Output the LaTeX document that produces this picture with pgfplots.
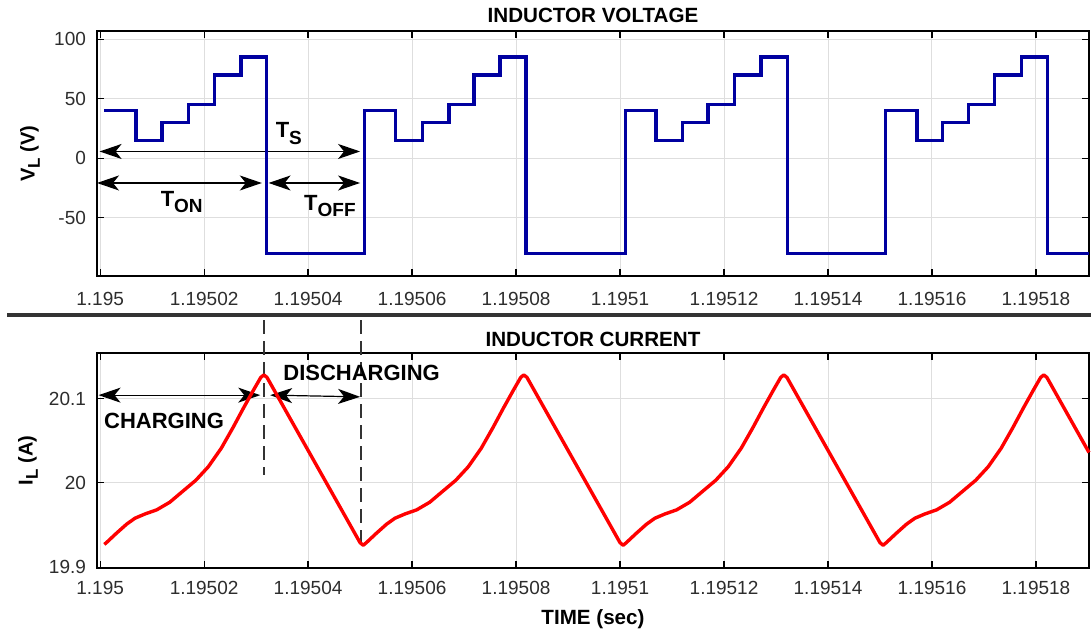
\documentclass[border=0pt]{standalone}
\usepackage{fontspec}
\setmainfont{Liberation Sans}
\usepackage{pgfplots}
\pgfplotsset{compat=1.18}
\usetikzlibrary{arrows.meta}
\definecolor{vblue}{RGB}{0,0,160}
\definecolor{tickgray}{RGB}{45,45,45}
\newcommand{\sub}[1]{\raisebox{-0.55ex}{\fontsize{9.5}{10}\selectfont #1}}
\newcommand{\lsub}[1]{\raisebox{-0.5ex}{\fontsize{8.5}{9}\selectfont #1}}
\tikzset{dimarrow/.style={{Stealth[length=11pt,width=7.5pt,inset=3pt]}-{Stealth[length=11pt,width=7.5pt,inset=3pt]}, line width=0.6pt, black},
  ttl/.style={font=\bfseries\fontsize{10.3}{12}\selectfont, anchor=center}}
\pgfplotsset{
 myaxis/.style={
   scale only axis, width=496pt, xmin=-0.6, xmax=190.2,
   xtick={0,20,...,180},
   xticklabels={1.195,1.19502,1.19504,1.19506,1.19508,1.1951,1.19512,1.19514,1.19516,1.19518},
   tick align=inside, tick pos=both, major tick length=3.5pt,
   every tick/.style={black,line width=0.6pt},
   axis line style={line width=0.75pt},
   grid=major, major grid style={black!13,line width=0.5pt},
   ticklabel style={font=\fontsize{9.5}{10}\selectfont, text=tickgray},
   yticklabel style={xshift=-2pt},
   clip=false, anchor=south west,
   every axis y label/.style={rotate=90,anchor=center,font=\bfseries\fontsize{10}{12}\selectfont},
 }
}
\begin{document}
\begin{tikzpicture}
\path[use as bounding box] (0,0) rectangle (545.5pt,315pt);
% top panel
\begin{axis}[myaxis, at={(48.5pt,177pt)}, height=122.5pt,
  ymin=-99, ymax=107, ytick={-50,0,50,100}, yticklabels={-50,0,50,100},
  xticklabel style={yshift=-4.6pt},
  ylabel={V\lsub{L} (V)}, ylabel style={at={(axis description cs:-0.0675,0.5)}}]
\node[ttl] at (axis description cs:0.5,1.065) {INDUCTOR VOLTAGE};
\draw[dimarrow] (axis cs:-0.1,5.7) -- (axis cs:50,5.7);
\draw[dimarrow] (axis cs:-0.6,-20.8) -- (axis cs:31.1,-20.8);
\draw[dimarrow] (axis cs:32.4,-20.8) -- (axis cs:50,-20.8);
\node[font=\bfseries\fontsize{11}{12}\selectfont] at (axis cs:36.3,20.9) {T\sub{S}};
\node[font=\bfseries\fontsize{11}{12}\selectfont] at (axis cs:15.7,-36.7) {T\sub{ON}};
\node[font=\bfseries\fontsize{11}{12}\selectfont] at (axis cs:44.2,-40) {T\sub{OFF}};
\addplot[vblue, line width=1.7pt, line join=miter] coordinates {
(0.8,40)(6.9,40)(6.9,15)(11.9,15)(11.9,30)(17,30)(17,45)(22,45)(22,70)(27.1,70)(27.1,85)(32,85)(32,-80)
(50.9,-80)(50.9,40)(56.8,40)(56.8,15)(62,15)(62,30)(67.1,30)(67.1,45)(71.9,45)(71.9,70)(76.9,70)(76.9,85)(81.9,85)(81.9,-80)
(101.1,-80)(101.1,40)(106.9,40)(106.9,15)(112,15)(112,30)(116.9,30)(116.9,45)(122,45)(122,70)(127.1,70)(127.1,85)(132.2,85)(132.2,-80)
(151.1,-80)(151.1,40)(157.1,40)(157.1,15)(162,15)(162,30)(167,30)(167,45)(172,45)(172,70)(177.2,70)(177.2,85)(182.2,85)(182.2,-80)(190.2,-80)
};
\end{axis}
% separator
\draw[line width=2pt, black!80] (3.5pt,157.5pt) -- (545.5pt,157.5pt);
% bottom panel
\begin{axis}[myaxis, at={(48.5pt,31pt)}, height=107.5pt,
  ymin=19.899, ymax=20.154, ytick={19.9,20,20.1}, yticklabels={19.9,20,20.1},
  xticklabel style={yshift=-3.2pt},
  ylabel={I\lsub{L} (A)}, ylabel style={at={(axis description cs:-0.0696,0.5)}},
  xlabel={TIME (sec)}, xlabel style={at={(axis description cs:0.5,-0.237)},anchor=center,font=\bfseries\fontsize{10.3}{12}\selectfont}]
\node[ttl] at (axis description cs:0.5,1.065) {INDUCTOR CURRENT};
\draw[black!80, line width=0.8pt, dash pattern=on 7pt off 3.5pt] (axis cs:31.5,20.193) -- (axis cs:31.5,20.009);
\draw[black!80, line width=0.8pt, dash pattern=on 7pt off 3.5pt] (axis cs:50.2,20.193) -- (axis cs:50.2,19.924);
\draw[dimarrow] (axis cs:-0.3,20.104) -- (axis cs:30.8,20.104);
\draw[dimarrow] (axis cs:32.7,20.104) -- (axis cs:50,20.102);
\node[font=\bfseries\fontsize{11}{12}\selectfont] at (axis cs:12.3,20.0734) {CHARGING};
\node[font=\bfseries\fontsize{11}{12}\selectfont] at (axis cs:50.3,20.130) {DISCHARGING};
\addplot[red, line width=1.7pt, line join=round] coordinates {
(0.8,19.927)(1.2,19.929)(3.1,19.940)(5.1,19.951)(6.7,19.958)(8.6,19.963)(10.9,19.968)(13.4,19.977)(15.7,19.989)(18.4,20.003)(20.8,20.019)(23.3,20.041)(25.6,20.066)(27.6,20.089)(29.5,20.110)(30.9,20.125)(31.5,20.128)(32.1,20.125)(50.0,19.929)(50.6,19.926)
(51.2,19.929)(53.1,19.940)(55.1,19.951)(56.7,19.958)(58.6,19.963)(60.9,19.968)(63.4,19.977)(65.7,19.989)(68.4,20.003)(70.8,20.019)(73.3,20.041)(75.6,20.066)(77.6,20.089)(79.5,20.110)(80.9,20.125)(81.5,20.128)(82.1,20.125)(100.0,19.929)(100.6,19.926)
(101.2,19.929)(103.1,19.940)(105.1,19.951)(106.7,19.958)(108.6,19.963)(110.9,19.968)(113.4,19.977)(115.7,19.989)(118.4,20.003)(120.8,20.019)(123.3,20.041)(125.6,20.066)(127.6,20.089)(129.5,20.110)(130.9,20.125)(131.5,20.128)(132.1,20.125)(150.0,19.929)(150.6,19.926)
(151.2,19.929)(153.1,19.940)(155.1,19.951)(156.7,19.958)(158.6,19.963)(160.9,19.968)(163.4,19.977)(165.7,19.989)(168.4,20.003)(170.8,20.019)(173.3,20.041)(175.6,20.066)(177.6,20.089)(179.5,20.110)(180.9,20.125)(181.5,20.128)(182.1,20.125)(190.2,20.036)
};
\end{axis}
\end{tikzpicture}
\end{document}
